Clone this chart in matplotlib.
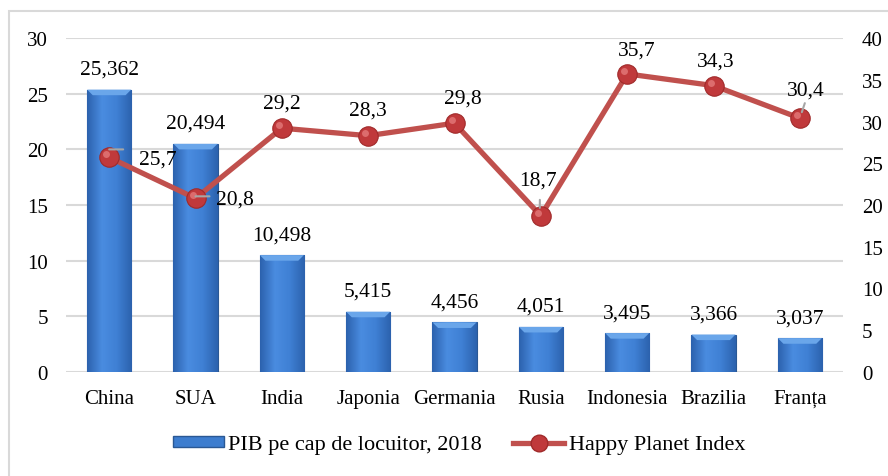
import numpy as np
import matplotlib
matplotlib.use('Agg')
import matplotlib.pyplot as plt
from matplotlib.patches import Rectangle, Polygon, Patch
from matplotlib.lines import Line2D
from matplotlib.colors import LinearSegmentedColormap
from matplotlib.transforms import ScaledTranslation

countries = ['China', 'SUA', 'India', 'Japonia', 'Germania', 'Rusia',
             'Indonesia', 'Brazilia', 'Franța']
pib = [25.362, 20.494, 10.498, 5.415, 4.456, 4.051, 3.495, 3.366, 3.037]
hpi = [25.7, 20.8, 29.2, 28.3, 29.8, 18.7, 35.7, 34.3, 30.4]

# label offsets (pixels) for the line labels, and leader line ends (pixels)
hpi_offsets = [(47, -2), (37, -1), (0, 25), (0, 26), (8, 25), (-3, 36),
               (10, 24), (2, 25), (6, 28)]
hpi_leaders = [((0, 8), (14, 8)), ((0, 2), (14, 2)), None, None, None,
               ((-1, 8), (-1, 16)), None, None, ((2, 6), (5, 15))]

plt.rcParams['font.family'] = ['Liberation Serif', 'DejaVu Serif']
plt.rcParams['font.size'] = 15

fig = plt.figure(figsize=(8.88, 4.77), dpi=100)
ax = fig.add_axes([66 / 888, 1 - 373 / 477, (843 - 66) / 888, (373 - 39) / 477])
ax2 = ax.twinx()

# outer chart frame
fig.patches.append(Rectangle((9 / 888, -0.05), 1.2, 1 - 12 / 477 + 0.05,
                             transform=fig.transFigure, fill=False,
                             edgecolor='#d9d9d9', lw=1.5, zorder=0))

x = np.arange(len(countries))
width = 0.51
bars = ax.bar(x, pib, width=width, color='#3d7dcf', edgecolor='#2a5894',
              linewidth=0.8, zorder=2)

# cylinder-ish shading on bars
cmap = LinearSegmentedColormap.from_list('b', ['#2c62ae', '#4a8ce0', '#3f80d4', '#2c62ae'])
grad = np.linspace(0, 1, 64).reshape(1, -1)
for b in bars:
    x0, w, h = b.get_x(), b.get_width(), b.get_height()
    im = ax.imshow(grad, extent=[x0, x0 + w, 0, h], aspect='auto', cmap=cmap,
                   zorder=2.1, interpolation='bicubic')
    im.set_clip_path(b)
    dx, dy = 0.065, 0.5
    ax.add_patch(Polygon([(x0, h), (x0 + w, h), (x0 + w - dx, h - dy), (x0 + dx, h - dy)],
                         closed=True, facecolor='#6aa6ea', edgecolor='none', zorder=2.2))
    ax.annotate(f'{h:.3f}'.replace('.', ','), (b.get_x() + w / 2, h),
                xytext=(0, 11), textcoords='offset pixels', ha='center', va='bottom',
                fontsize=15.5, zorder=5)

ax.set_xlim(-0.5, len(countries) - 0.5)
ax.set_ylim(0, 30)
ax.set_yticks(range(0, 31, 5))
ax.set_xticks(x)
ax.set_xticklabels(countries)
ax.yaxis.grid(True, color='#d9d9d9', lw=1.5, zorder=0)
ax.set_axisbelow(True)
for s in ax.spines.values():
    s.set_visible(False)
ax.tick_params(axis='both', length=0, labelsize=15)
ax.tick_params(axis='y', pad=13)
ax.tick_params(axis='x', pad=12)

ax2.plot(x, hpi, color='#c0504d', lw=3.8, zorder=3, solid_capstyle='round')
ax2.plot(x, hpi, 'o', ms=14, color='#c0393b', mec='#a02a2a', mew=0.8, zorder=4)
ax2.plot(x, hpi, 'o', ms=5, color='#e47a7a', mec='none', alpha=0.8, zorder=4,
         transform=ax2.transData + ScaledTranslation(-3 / 100, 3 / 100, fig.dpi_scale_trans))


def px_shift(px, py):
    return ax2.transData + ScaledTranslation(px / 100, py / 100, fig.dpi_scale_trans)


for xi, v, (ox, oy), lead in zip(x, hpi, hpi_offsets, hpi_leaders):
    ha = 'center'
    if ox > 30:
        ha = 'left'
        ox -= 17
    ax2.annotate(f'{v:.1f}'.replace('.', ','), (xi, v), xytext=(ox, oy),
                 textcoords='offset pixels', ha=ha, va='center', fontsize=15.5, zorder=5)
    if lead:
        (ax_, ay_), (bx_, by_) = lead
        ax2.annotate('', xy=(xi, v), xycoords=px_shift(ax_, ay_),
                     xytext=(xi, v), textcoords=px_shift(bx_, by_),
                     arrowprops=dict(arrowstyle='-', color='#a6a6a6', lw=1.5,
                                     shrinkA=0, shrinkB=0), zorder=6)

ax2.set_ylim(0, 40)
ax2.set_yticks(range(0, 41, 5))
for s in ax2.spines.values():
    s.set_visible(False)
ax2.tick_params(axis='y', length=0, labelsize=15, pad=13.5)

handles = [Patch(facecolor='#3d7dcf', edgecolor='#2a5894'),
           Line2D([], [], color='#c0504d', lw=3.8, marker='o', ms=12,
                  mfc='#c0393b', mec='#a02a2a')]
fig.legend(handles, ['PIB pe cap de locuitor, 2018', 'Happy Planet Index'],
           loc='center', bbox_to_anchor=(0.517, 1 - 446 / 477), ncol=2,
           frameon=False, fontsize=16, handlelength=2.3, handleheight=0.4,
           handletextpad=0.2, columnspacing=1.4)

fig.savefig('out.png', dpi=100)
